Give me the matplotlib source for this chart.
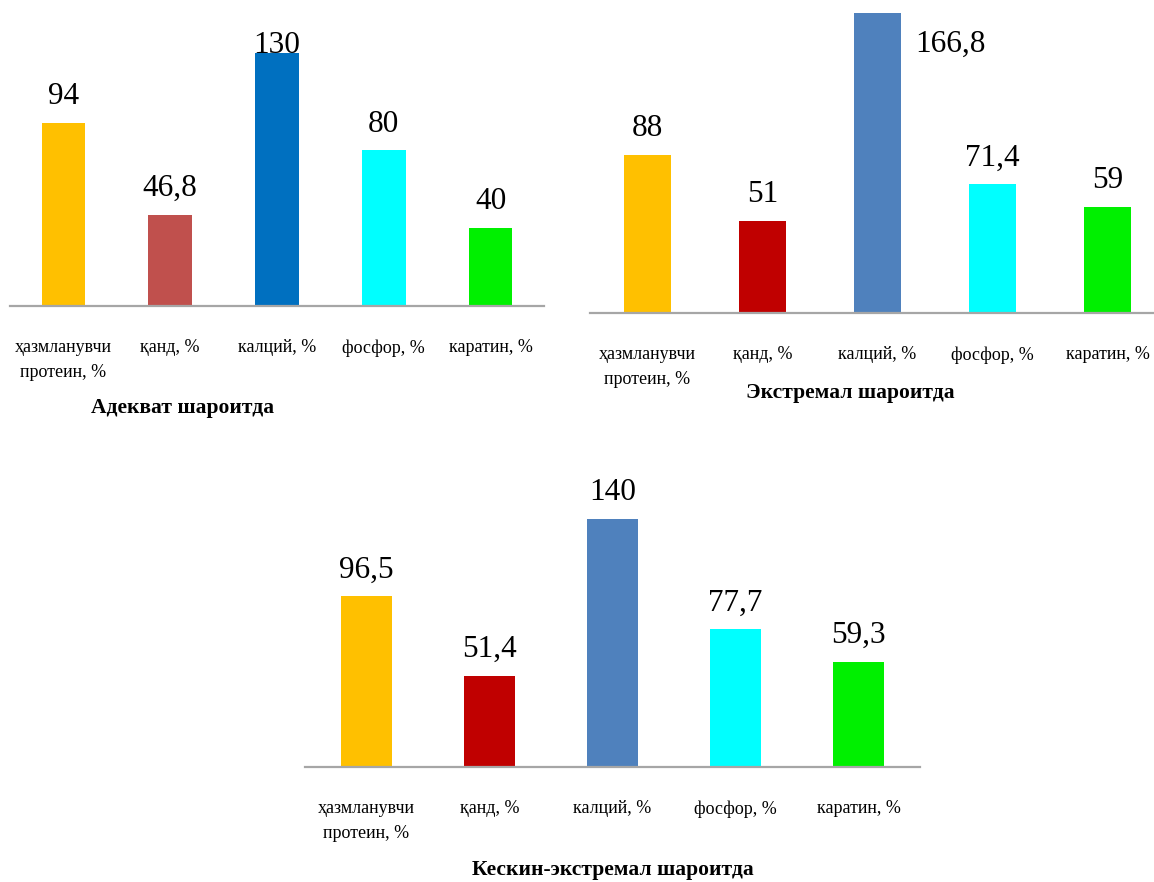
import matplotlib
matplotlib.use("Agg")
import matplotlib.pyplot as plt

plt.rcParams['font.family'] = ['Liberation Serif', 'DejaVu Serif']

# categories (same for all three panels)
categories = ['ҳазмланувчи\nпротеин, %', 'қанд, %', 'калций, %', 'фосфор, %', 'каратин, %']

# values per condition
adequate = [94, 46.8, 130, 80, 40]
extreme = [88, 51, 166.8, 71.4, 59]
sharp_extreme = [96.5, 51.4, 140, 77.7, 59.3]

titles = ['Адекват шароитда', 'Экстремал шароитда', 'Кескин-экстремал шароитда']

colors_1 = ['#FFC000', '#C0504D', '#0070C0', '#00FFFF', '#00F000']
colors_2 = ['#FFC000', '#C00000', '#4F81BD', '#00FFFF', '#00F000']

W, H = 1154, 882
fig = plt.figure(figsize=(W / 100, H / 100), dpi=100)


def px_axes(left, top, right, bottom):
    # pixel box (from top-left) -> figure fraction axes
    return fig.add_axes([left / W, 1 - bottom / H, (right - left) / W, (bottom - top) / H])


def fmt(v):
    s = ('%g' % v)
    return s.replace('.', ',')


def panel(ax, vals, colors, ymax, special=None):
    x = list(range(len(vals)))
    ax.bar(x, vals, width=0.41, color=colors)
    ax.set_xlim(-0.5, len(vals) - 0.5)
    ax.set_ylim(0, ymax)
    for s in ['top', 'left', 'right']:
        ax.spines[s].set_visible(False)
    ax.spines['bottom'].set_color('#A6A6A6')
    ax.spines['bottom'].set_linewidth(1.6)
    ax.set_yticks([])
    ax.set_xticks(x)
    ax.set_xticklabels(categories, fontsize=13, linespacing=1.6)
    ax.tick_params(axis='x', length=0, pad=24)
    ax.patch.set_alpha(0)
    for i, v in enumerate(vals):
        off = (0, 13.5)
        ha = 'center'
        if special and i in special:
            off, ha = special[i]
        ax.annotate(fmt(v), (i, v), xytext=off, textcoords='offset points',
                    ha=ha, va='baseline', fontsize=22.5, clip_on=False)


ax1 = px_axes(10, 0, 544, 306)
panel(ax1, adequate, colors_1, 306 / 1.946, special={2: ((0, 0), 'center')})
fig.text(183 / W, 1 - 408 / H, titles[0], ha='center', va='center',
         fontsize=15.5, fontweight='bold')

ax2 = px_axes(590, 0, 1165, 313)
panel(ax2, extreme, colors_2, 313 / 1.80, special={2: ((27, -28), 'left')})
fig.text(850 / W, 1 - 393 / H, titles[1], ha='center', va='center',
         fontsize=15.5, fontweight='bold')

ax3 = px_axes(305, 470, 920, 767)
panel(ax3, sharp_extreme, colors_2, 297 / 1.77)
fig.text(613 / W, 1 - 870 / H, titles[2], ha='center', va='center',
         fontsize=15.5, fontweight='bold')

fig.savefig('out.png', dpi=100)
